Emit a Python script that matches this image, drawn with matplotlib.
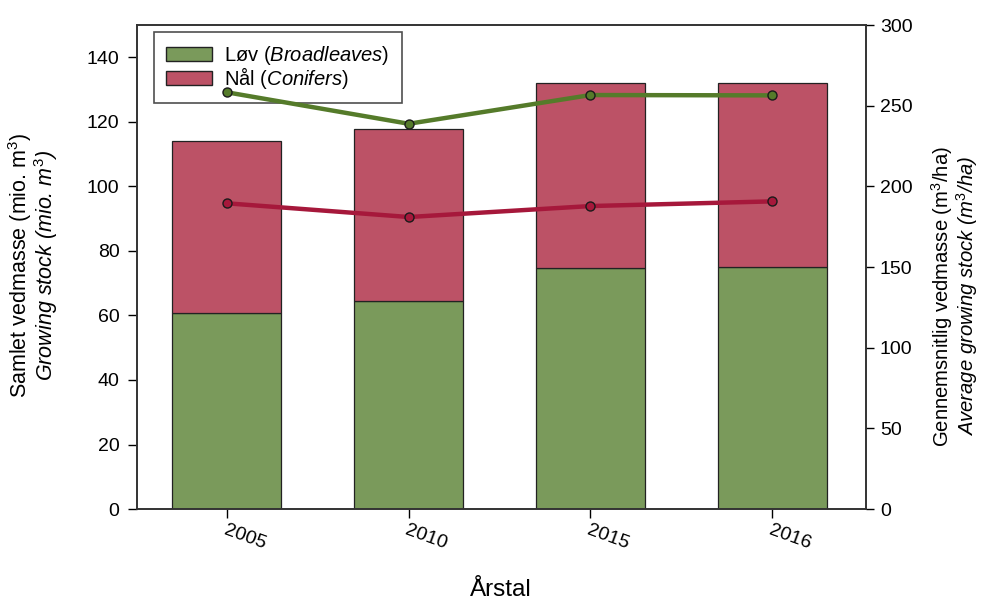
import matplotlib
matplotlib.use("Agg")
import matplotlib.pyplot as plt
from matplotlib.patches import Patch

plt.rcParams['font.family'] = ['Liberation Sans', 'DejaVu Sans']
plt.rcParams['mathtext.fontset'] = 'custom'
plt.rcParams['mathtext.rm'] = 'Liberation Sans'
plt.rcParams['mathtext.it'] = 'Liberation Sans:italic'

years = ["2005", "2010", "2015", "2016"]
# total growing stock, mio. m3
broadleaves = [60.7, 64.5, 74.7, 75.0]
conifers = [53.3, 53.3, 57.2, 57.1]
# average growing stock, m3/ha
avg_broad = [258.3, 238.8, 256.6, 256.4]
avg_conif = [189.5, 181.0, 187.8, 190.7]

green_bar = "#7a9a5b"
red_bar = "#bc5266"
green_line = "#557b2a"
red_line = "#a6183b"

fig = plt.figure(figsize=(9.89, 6.06), dpi=100)
ax = fig.add_axes([0.1385, 0.16, 0.737, 0.7987])
x = range(len(years))

ax.bar(x, broadleaves, width=0.6, color=green_bar, edgecolor="#222222", linewidth=0.9, zorder=2)
ax.bar(x, conifers, width=0.6, bottom=broadleaves, color=red_bar, edgecolor="#222222", linewidth=0.9, zorder=2)
ax.set_ylim(0, 150)
ax.set_xlim(-0.495, 3.515)
ax.set_yticks(range(0, 141, 20))
ax.set_xticks(list(x))
ax.set_xticklabels(years, rotation=-20, ha="left", rotation_mode="anchor")
ax.tick_params(axis="both", labelsize=14, direction="out", length=6.5, width=1)
ax.tick_params(axis="y", pad=6)
ax.tick_params(axis="x", pad=3)

ax2 = ax.twinx()
ax2.plot(x, avg_broad, color=green_line, lw=3.2, marker="o", ms=6.5,
         mfc=green_line, mec="#1a1a1a", mew=1.0, zorder=3)
ax2.plot(x, avg_conif, color=red_line, lw=3.2, marker="o", ms=6.5,
         mfc=red_line, mec="#1a1a1a", mew=1.0, zorder=3)
ax2.set_ylim(0, 300)
ax2.set_yticks(range(0, 301, 50))
ax2.tick_params(axis="y", labelsize=14, direction="out", length=6, width=1, pad=4)

for a in (ax, ax2):
    for s in a.spines.values():
        s.set_color("#333333")
        s.set_linewidth(1.2)

fig.text(0.506, 1 - 590 / 606, "Årstal", fontsize=17.5, ha="center", va="center")

fig.text(20 / 989, 1 - 265 / 606, "Samlet vedmasse (mio. m$^3$)", rotation=90, fontsize=15.5,
         ha="center", va="center")
fig.text(46 / 989, 1 - 265 / 606, "Growing stock (mio. $\\mathit{m^3}$)", rotation=90, fontsize=15.5,
         style="italic", ha="center", va="center")
fig.text(942 / 989, 1 - 297 / 606, "Gennemsnitlig vedmasse (m$^3$/ha)", rotation=90, fontsize=14.6,
         ha="center", va="center")
fig.text(967 / 989, 1 - 296 / 606, "Average growing stock ($\\mathit{m^3}$/ha)", rotation=90, fontsize=14.6,
         style="italic", ha="center", va="center")

handles = [Patch(facecolor=green_bar, edgecolor="#222222"),
           Patch(facecolor=red_bar, edgecolor="#222222")]
labels = ["Løv ($\\mathit{Broadleaves}$)", "Nål ($\\mathit{Conifers}$)"]
leg = ax2.legend(handles, labels, loc="upper left", bbox_to_anchor=(0.0233, 0.9855),
                 borderaxespad=0, fontsize=14.5, frameon=True, fancybox=False, borderpad=0.6,
                 handlelength=2.3, handleheight=0.65, labelspacing=-0.1, handletextpad=0.6)
leg.get_frame().set_edgecolor("#222222")
leg.get_frame().set_linewidth(1.2)
leg.set_zorder(1)

fig.savefig("out.png", dpi=100)
